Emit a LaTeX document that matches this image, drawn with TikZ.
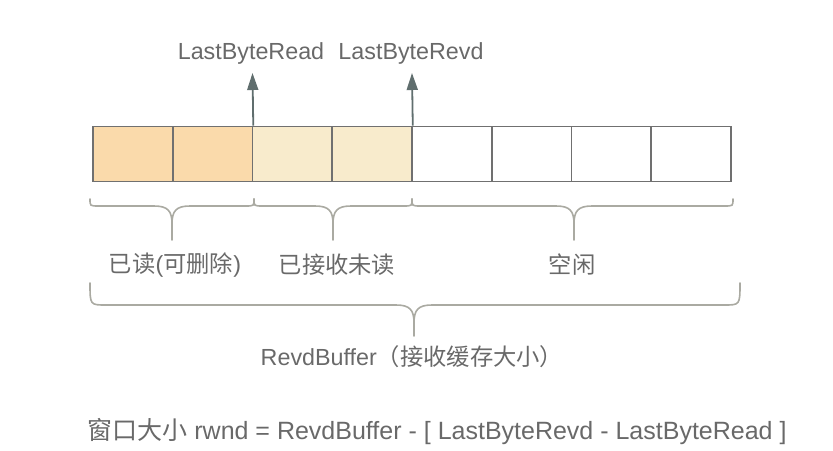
\documentclass[tikz,border=0pt]{standalone}
\usepackage{fontspec}
\setmainfont{Liberation Sans}
\newfontfamily\cjk{Noto Sans CJK SC}
\usepackage{xcolor}
\definecolor{Buf-line}{RGB}{112, 112, 112}
\definecolor{Buf-read}{RGB}{250, 218, 171}
\definecolor{Buf-unread}{RGB}{248, 235, 204}
\definecolor{Buf-arrow}{RGB}{96, 110, 110}
\definecolor{Buf-text}{RGB}{105, 105, 105}
\definecolor{Buf-brace}{RGB}{170, 170, 162}
\usetikzlibrary{arrows.meta,positioning,calc}

% 花括号: 左端 右端 尖端x 端点y 横线y 尖端y
\newcommand{\curlybrace}[6]{%
    \pgfmathsetmacro{\hk}{0.5*(#5-#4)+5}% 端点弯钩宽度
    \draw [brace-line] (#1,#4) .. controls (#1,#5) .. ({#1+\hk},#5) -- ({#3-18},#5)
        .. controls ({#3-4},#5) and (#3,{#5+5}) .. (#3,{#5+18}) -- (#3,#6);
    \draw [brace-line] (#3,{#5+18}) .. controls (#3,{#5+5}) and ({#3+4},#5) .. ({#3+18},#5)
        -- ({#2-\hk},#5) .. controls (#2,#5) .. (#2,#4);
}

\begin{document}
\begin{tikzpicture} [ % 先定义样式
            x=1pt, y=-1pt, font=\fontsize{23.3}{27}\selectfont,
            cell/.style = {draw=Buf-line, line width=1.6pt, minimum width=79.75pt, minimum height=55pt, inner sep=0pt},
            cell-read/.style = {cell, fill=Buf-read},
            cell-unread/.style = {cell, fill=Buf-unread},
            cell-free/.style = {cell, fill=white},
            plain/.style = {draw=none, text=Buf-text, inner sep=0pt},
            pointer/.style = {draw=Buf-arrow, line width=1.8pt, -{Triangle[length=17pt,width=11pt]}},
            brace-line/.style = {draw=Buf-brace, line width=1.6pt, line cap=round}
        ]

        \useasboundingbox (0,0) rectangle (833,450);

        % 缓存格子
        \node [cell-read] (c1) at (132.9,154) {};
        \node [cell-read] (c2) at (212.6,154) {};
        \node [cell-unread] (c3) at (292.4,154) {};
        \node [cell-unread] (c4) at (372.1,154) {};
        \node [cell-free] (c5) at (451.9,154) {};
        \node [cell-free] (c6) at (531.6,154) {};
        \node [cell-free] (c7) at (611.4,154) {};
        \node [cell-free] (c8) at (691.1,154) {};

        % 指针
        \node [plain] (lread) at (251,53) {LastByteRead};
        \node [plain] (lrevd) at (411,53) {LastByteRevd};
        \coordinate (pread) at (252.5,73);
        \coordinate (prevd) at (412,73);
        \draw [pointer] (c2.north east) -- (pread);
        \draw [pointer] (c4.north east) -- (prevd);

        % 花括号
        \curlybrace{90}{254}{172}{199}{206}{240}
        \curlybrace{254}{412}{333}{199}{206}{240}
        \curlybrace{412}{733}{574}{199}{206}{240}
        \curlybrace{90}{740}{414}{283}{305}{336}

        % 文字
        \node [plain] (tread) at (175,265) {{\cjk 已读}({\cjk 可删除})};
        \node [plain] (tunread) at (337,265) {\cjk 已接收未读};
        \node [plain] (tfree) at (572,265) {\cjk 空闲};
        \node [plain] (tbuf) at (412,357) {RevdBuffer{\cjk （接收缓存大小）}};
        \node [plain, font=\fontsize{25}{29}\selectfont] (rwnd) at (437,432) {{\cjk 窗口大小} rwnd = RevdBuffer - [ LastByteRevd - LastByteRead ]};

    \end{tikzpicture}
\end{document}
